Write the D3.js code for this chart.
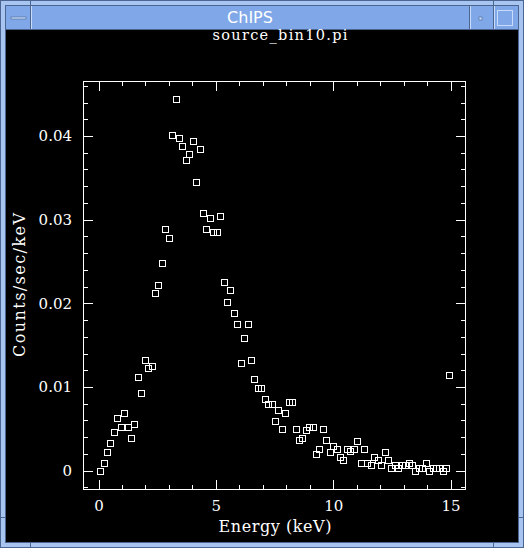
<!DOCTYPE html>
<html>
<head>
<meta charset="utf-8">
<script src="https://cdn.jsdelivr.net/npm/d3@7"></script>
<style>
  html, body { margin: 0; padding: 0; background: #a8c4f0; }
  svg { display: block; }
  text { font-family: "DejaVu Serif", "Liberation Serif", serif; fill: #fff; }
</style>
</head>
<body>
<svg id="win" width="524" height="548"></svg>
<script>
// spectrum: source_bin10.pi, bin centres (keV) and rates (counts/sec/keV)
var energy = [0.073, 0.219, 0.365, 0.511, 0.657, 0.803, 0.949, 1.095, 1.241, 1.387,
    1.533, 1.679, 1.825, 1.971, 2.117, 2.263, 2.409, 2.555, 2.701, 2.847,
    2.993, 3.139, 3.285, 3.431, 3.577, 3.723, 3.869, 4.015, 4.161, 4.307,
    4.453, 4.599, 4.745, 4.891, 5.037, 5.183, 5.329, 5.475, 5.621, 5.767,
    5.913, 6.059, 6.205, 6.351, 6.497, 6.643, 6.789, 6.935, 7.081, 7.227,
    7.373, 7.519, 7.665, 7.811, 7.957, 8.103, 8.249, 8.395, 8.541, 8.687,
    8.833, 8.979, 9.125, 9.271, 9.417, 9.563, 9.709, 9.855, 10.001, 10.147,
    10.293, 10.439, 10.585, 10.731, 10.877, 11.023, 11.169, 11.315, 11.461, 11.607,
    11.753, 11.899, 12.045, 12.191, 12.337, 12.483, 12.629, 12.775, 12.921, 13.067,
    13.213, 13.359, 13.505, 13.651, 13.797, 13.943, 14.089, 14.235, 14.381, 14.527,
    14.673, 14.819, 14.928];

var rate = [0.00000, 0.00088, 0.00227, 0.00327, 0.00459, 0.00630, 0.00522, 0.00693, 0.00526, 0.00394,
    0.00562, 0.01123, 0.00925, 0.01319, 0.01224, 0.01255, 0.02120, 0.02216, 0.02486, 0.02885,
    0.02785, 0.04008, 0.04439, 0.03980, 0.03877, 0.03710, 0.03785, 0.03944, 0.03447, 0.03841,
    0.03083, 0.02885, 0.03016, 0.02849, 0.02849, 0.03047, 0.02252, 0.02016, 0.02156, 0.01885,
    0.01750, 0.01291, 0.01590, 0.01757, 0.01319, 0.01092, 0.00992, 0.00992, 0.00857, 0.00794,
    0.00794, 0.00590, 0.00722, 0.00495, 0.00693, 0.00825, 0.00825, 0.00495, 0.00367, 0.00394,
    0.00490, 0.00522, 0.00522, 0.00196, 0.00256, 0.00495, 0.00363, 0.00227, 0.00295, 0.00263,
    0.00160, 0.00122, 0.00263, 0.00232, 0.00263, 0.00359, 0.00096, 0.00263, 0.00096, 0.00065,
    0.00164, 0.00131, 0.00065, 0.00227, 0.00128, 0.00029, 0.00065, 0.00029, 0.00065, 0.00065,
    0.00096, 0.00065, 0.00000, 0.00029, 0.00029, 0.00096, 0.00000, 0.00029, 0.00029, 0.00029,
    0.00000, 0.00029, 0.01140];

var xMajor = [0, 5, 10, 15];
var xMinor = [1, 2, 3, 4, 6, 7, 8, 9, 11, 12, 13, 14];
var yMajor = [0, 0.01, 0.02, 0.03, 0.04];
var yMinor = [-0.002, 0.002, 0.004, 0.006, 0.008, 0.012, 0.014, 0.016, 0.018, 0.022,
    0.024, 0.026, 0.028, 0.032, 0.034, 0.036, 0.038, 0.042, 0.044, 0.046];
var yTickLabels = ["0", "0.01", "0.02", "0.03", "0.04"];

var svg = d3.select("#win");

// ---- window chrome ----
var frameLight = "#a8c4f0", barBlue = "#80a8e8", dark = "#4a6690";
svg.append("rect").attr("width", 524).attr("height", 548).attr("fill", frameLight);
svg.append("rect").attr("x", 0.5).attr("y", 0.5).attr("width", 523).attr("height", 547)
    .attr("fill", "none").attr("stroke", dark);
svg.append("rect").attr("x", 6).attr("y", 6).attr("width", 512).attr("height", 23)
    .attr("fill", barBlue);
svg.append("rect").attr("x", 5.5).attr("y", 5.5).attr("width", 513).attr("height", 24)
    .attr("fill", "none").attr("stroke", dark).attr("shape-rendering", "crispEdges");
[30, 469, 493].forEach(function (bx) {
    svg.append("line").attr("x1", bx + 0.5).attr("x2", bx + 0.5).attr("y1", 6).attr("y2", 29)
        .attr("stroke", dark);
    svg.append("line").attr("x1", bx + 1.5).attr("x2", bx + 1.5).attr("y1", 6).attr("y2", 29)
        .attr("stroke", "#c8dcfa");
});
// buttons
svg.append("rect").attr("x", 11).attr("y", 17).attr("width", 15).attr("height", 2)
    .attr("fill", "#c8dcfa").attr("stroke", dark).attr("stroke-width", 0.6);
svg.append("rect").attr("x", 479).attr("y", 17).attr("width", 3).attr("height", 3)
    .attr("fill", "#c8dcfa").attr("stroke", dark).attr("stroke-width", 0.6);
svg.append("rect").attr("x", 497.5).attr("y", 10.5).attr("width", 15).attr("height", 15)
    .attr("fill", "none").attr("stroke", "#c8dcfa");
// corner notches
svg.append("line").attr("x1", 0).attr("x2", 6).attr("y1", 517.5).attr("y2", 517.5).attr("stroke", dark);
svg.append("line").attr("x1", 518).attr("x2", 524).attr("y1", 517.5).attr("y2", 517.5).attr("stroke", dark);
svg.append("line").attr("x1", 30.5).attr("x2", 30.5).attr("y1", 542).attr("y2", 548).attr("stroke", dark);
svg.append("line").attr("x1", 493.5).attr("x2", 493.5).attr("y1", 542).attr("y2", 548).attr("stroke", dark);
svg.append("line").attr("x1", 30.5).attr("x2", 30.5).attr("y1", 0).attr("y2", 5).attr("stroke", dark);
svg.append("line").attr("x1", 493.5).attr("x2", 493.5).attr("y1", 0).attr("y2", 5).attr("stroke", dark);

svg.append("text").attr("x", 250).attr("y", 23).attr("text-anchor", "middle")
    .style("font-family", "'DejaVu Sans', sans-serif").style("font-size", "16px")
    .text("ChIPS");

// plotting area
svg.append("rect").attr("x", 6).attr("y", 30).attr("width", 512).attr("height", 512)
    .attr("fill", "#000");
svg.append("rect").attr("x", 5.5).attr("y", 29.5).attr("width", 513).attr("height", 513)
    .attr("fill", "none").attr("stroke", dark);

// ---- chart ----
var x = d3.scaleLinear().domain([-0.6605, 15.66]).range([83, 466]);
var y = d3.scaleLinear().domain([-0.002307, 0.046573]).range([490, 81]);

var g = svg.append("g").attr("shape-rendering", "crispEdges");

g.append("text").attr("x", 280).attr("y", 40).attr("text-anchor", "middle")
    .style("font-size", "14.5px").attr("textLength", 135).attr("lengthAdjust", "spacing")
    .text("source_bin10.pi");

function styleAxis(sel) {
    sel.select(".domain").remove();
    sel.selectAll("line").attr("stroke", "#fff");
    sel.selectAll("text").attr("fill", "#fff").style("font-size", "15px")
        .style("font-family", "'DejaVu Serif', serif");
}

// bottom / top
g.append("g").attr("transform", "translate(0,490)")
    .call(d3.axisBottom(x).tickValues(xMajor).tickSize(-10).tickPadding(10).tickFormat(d3.format("d")))
    .call(styleAxis);
g.append("g").attr("transform", "translate(0,490)")
    .call(d3.axisBottom(x).tickValues(xMinor).tickSize(-5).tickFormat(""))
    .call(styleAxis);
g.append("g").attr("transform", "translate(0,81)")
    .call(d3.axisTop(x).tickValues(xMajor).tickSize(-10).tickFormat(""))
    .call(styleAxis);
g.append("g").attr("transform", "translate(0,81)")
    .call(d3.axisTop(x).tickValues(xMinor).tickSize(-5).tickFormat(""))
    .call(styleAxis);
// left / right
g.append("g").attr("transform", "translate(83,0)")
    .call(d3.axisLeft(y).tickValues(yMajor).tickSize(-10).tickPadding(11)
        .tickFormat(function (d, i) { return yTickLabels[i]; }))
    .call(styleAxis);
g.append("g").attr("transform", "translate(83,0)")
    .call(d3.axisLeft(y).tickValues(yMinor).tickSize(-5).tickFormat(""))
    .call(styleAxis);
g.append("g").attr("transform", "translate(466,0)")
    .call(d3.axisRight(y).tickValues(yMajor).tickSize(-10).tickFormat(""))
    .call(styleAxis);
g.append("g").attr("transform", "translate(466,0)")
    .call(d3.axisRight(y).tickValues(yMinor).tickSize(-5).tickFormat(""))
    .call(styleAxis);

// frame
g.append("rect").attr("x", 83.5).attr("y", 81.5).attr("width", 382).attr("height", 408)
    .attr("fill", "none").attr("stroke", "#fff");

// axis titles
g.append("text").attr("x", 275).attr("y", 532).attr("text-anchor", "middle")
    .style("font-size", "16px").attr("textLength", 113).attr("lengthAdjust", "spacing")
    .text("Energy (keV)");
g.append("text").attr("transform", "translate(25,285) rotate(-90)").attr("text-anchor", "middle")
    .style("font-size", "16px").attr("textLength", 144).attr("lengthAdjust", "spacing")
    .text("Counts/sec/keV");

// data points: hollow squares
g.append("g").selectAll("rect").data(d3.range(energy.length)).join("rect")
    .attr("x", function (i) { return Math.round(x(energy[i])) - 3 + 0.5; })
    .attr("y", function (i) { return Math.round(y(rate[i])) - 3 + 0.5; })
    .attr("width", 6).attr("height", 6)
    .attr("fill", "none").attr("stroke", "#fff").attr("stroke-width", 1);
</script>
</body>
</html>
